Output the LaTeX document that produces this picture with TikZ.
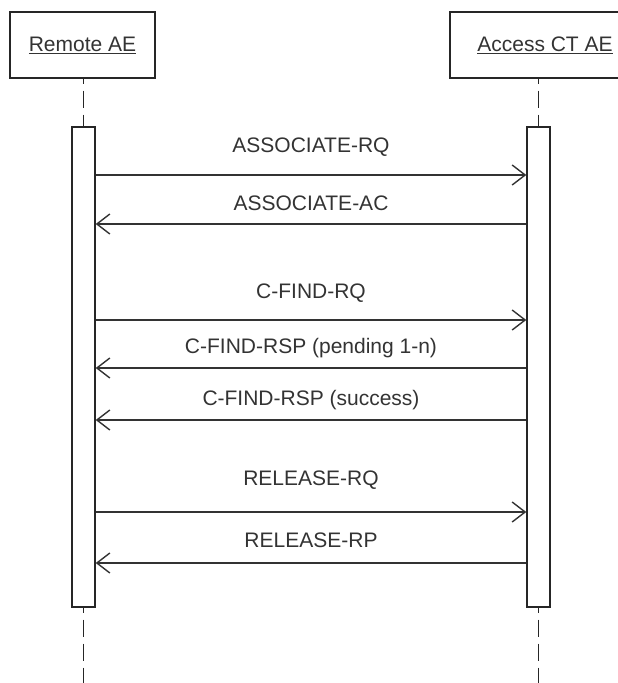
\documentclass[tikz,border=0pt]{standalone}
\usepackage{fontspec}
\setmainfont{Liberation Sans}
\usetikzlibrary{arrows.meta}
\tikzset{
	actor/.style={draw=black!85, line width=1.4pt, minimum height=66pt, inner sep=0pt, font=\fontsize{21}{25}\selectfont, text=black!80},
	bar/.style={draw=black!85, line width=1.4pt, fill=white, minimum width=23pt, minimum height=480pt, inner sep=0pt},
	life/.style={black!85, line width=1.6pt, dash pattern=on 17pt off 7pt, dash phase=12pt},
	msg/.style={black!80, line width=1.5pt, -{Straight Barb[length=13pt,width=20pt,line width=1.4pt]}},
	lbl/.style={font=\fontsize{21}{25}\selectfont, text=black!80, inner sep=0pt}
}

\begin{document}
\begin{tikzpicture}[x=1pt, y=-1pt]
			%%%%% START %%%%%
			
			\useasboundingbox (0, 0) rectangle (618, 683);
			\clip (0, 0) rectangle (618, 683);
			
			\node[actor, minimum width=145pt] (remote) at (82.5, 45) {\underline{Remote AE}};
			\node[actor, minimum width=190pt] (access) at (545, 45) {\underline{Access CT AE}};
			
			\node[bar] (remotebar) at (83.5, 367) {};
			\node[bar] (accessbar) at (538.5, 367) {};
			
			\coordinate (remoteend) at (83.5, 683);
			\coordinate (accessend) at (538.5, 683);
			
			\draw[life] (remote.south -| remotebar) -- (remotebar.north);
			\draw[life] (remotebar.south) -- (remoteend);
			\draw[life] (access.south -| accessbar) -- (accessbar.north);
			\draw[life] (accessbar.south) -- (accessend);
			
			\node[lbl] (assocrq) at (311, 147) {ASSOCIATE-RQ};
			\draw[msg] (remotebar.east |- 0, 175) -- (accessbar.west |- 0, 175);
			
			\node[lbl] (assocac) at (311, 203) {ASSOCIATE-AC};
			\draw[msg] (accessbar.west |- 0, 224) -- (remotebar.east |- 0, 224);
			
			\node[lbl] (findrq) at (311, 293) {C-FIND-RQ};
			\draw[msg] (remotebar.east |- 0, 320) -- (accessbar.west |- 0, 320);
			
			\node[lbl] (findpend) at (311, 348) {C-FIND-RSP (pending 1-n)};
			\draw[msg] (accessbar.west |- 0, 368) -- (remotebar.east |- 0, 368);
			
			\node[lbl] (findsucc) at (311, 400) {C-FIND-RSP (success)};
			\draw[msg] (accessbar.west |- 0, 420) -- (remotebar.east |- 0, 420);
			
			\node[lbl] (relrq) at (311, 480) {RELEASE-RQ};
			\draw[msg] (remotebar.east |- 0, 512) -- (accessbar.west |- 0, 512);
			
			\node[lbl] (relrp) at (311, 540) {RELEASE-RP};
			\draw[msg] (accessbar.west |- 0, 563) -- (remotebar.east |- 0, 563);
			
			%%%%% END %%%%%
\end{tikzpicture}
\end{document}
